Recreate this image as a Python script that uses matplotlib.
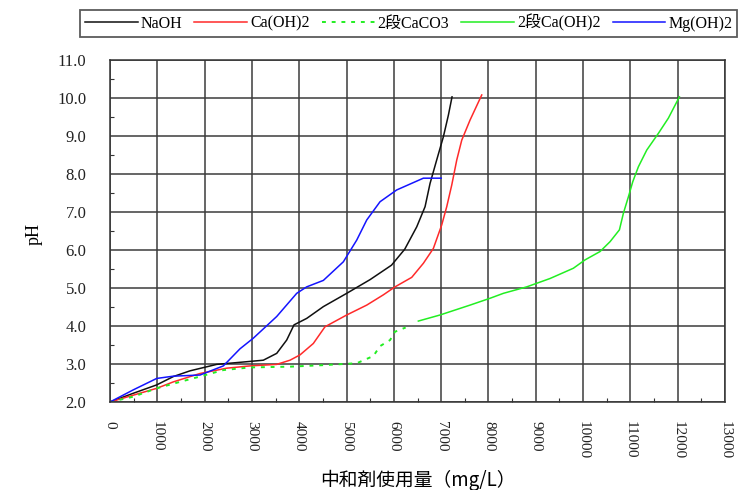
import matplotlib
matplotlib.use("Agg")
import matplotlib.pyplot as plt
from matplotlib.ticker import MultipleLocator, FixedLocator

plt.rcParams['font.family'] = ['Liberation Serif', 'Noto Sans CJK JP', 'DejaVu Sans']

# --- data ---
naoh_x = [0, 493, 987, 1340, 1691, 2255, 2889, 3241, 3524, 3735, 3890, 4158, 4510,
          5004, 5497, 5950, 6230, 6484, 6660, 6765, 6906, 7047, 7153, 7230]
naoh_y = [2.0, 2.23, 2.45, 2.67, 2.82, 2.99, 3.06, 3.10, 3.28, 3.63, 4.03, 4.20, 4.51,
          4.86, 5.22, 5.60, 6.02, 6.61, 7.14, 7.75, 8.37, 8.98, 9.55, 10.03]

caoh_x = [0, 493, 987, 1340, 1903, 2467, 2960, 3524, 3805, 4017, 4298, 4545, 5004,
          5427, 5778, 6025, 6378, 6624, 6835, 7012, 7118, 7224, 7330, 7435, 7611, 7858]
caoh_y = [2.0, 2.18, 2.36, 2.53, 2.75, 2.89, 2.95, 2.99, 3.10, 3.24, 3.54, 3.98, 4.29,
          4.55, 4.82, 5.03, 5.28, 5.65, 6.04, 6.66, 7.14, 7.71, 8.37, 8.89, 9.42, 10.08]

caco3_x = [0, 493, 987, 1480, 1903, 2396, 2960, 3805, 4510, 5215, 5567, 5708, 5920,
           6025, 6250]
caco3_y = [2.0, 2.14, 2.36, 2.53, 2.67, 2.84, 2.91, 2.93, 2.97, 3.02, 3.21, 3.47, 3.63,
           3.85, 3.96]

caoh2_x = [6518, 6977, 7611, 8034, 8316, 8809, 9302, 9795, 10042, 10359, 10571, 10768,
           10853, 10958, 11051, 11169, 11346, 11592, 11803, 12036]
caoh2_y = [4.13, 4.29, 4.55, 4.73, 4.86, 5.03, 5.25, 5.52, 5.74, 5.96, 6.22, 6.53,
           6.97, 7.40, 7.80, 8.19, 8.63, 9.07, 9.47, 10.03]

mgoh_x = [0, 493, 987, 1340, 1903, 2396, 2748, 3030, 3524, 3947, 4158, 4510, 4933,
          5215, 5427, 5708, 6060, 6624, 7000]
mgoh_y = [2.0, 2.32, 2.62, 2.68, 2.71, 2.95, 3.40, 3.68, 4.25, 4.86, 5.03, 5.20, 5.69,
          6.26, 6.79, 7.27, 7.58, 7.89, 7.89]

labels = ['NaOH', 'Ca(OH)2', '2段CaCO3', '2段Ca(OH)2', 'Mg(OH)2']
xticks = list(range(0, 13001, 1000))
yticks = [2.0, 3.0, 4.0, 5.0, 6.0, 7.0, 8.0, 9.0, 10.0, 11.0]

fig = plt.figure(figsize=(7.39, 4.90), dpi=100)
ax = fig.add_axes([110/739, 1-402/490, 615/739, 342/490])

lw = 1.1
l1, = ax.plot(naoh_x, naoh_y, color='#101010', lw=lw, label=labels[0])
l2, = ax.plot(caoh_x, caoh_y, color='#ff2a2a', lw=lw, label=labels[1])
l3, = ax.plot(caco3_x, caco3_y, color='#22ee22', lw=1.4, ls=(0, (2, 3)), label=labels[2])
l4, = ax.plot(caoh2_x, caoh2_y, color='#22ee22', lw=lw, label=labels[3])
l5, = ax.plot(mgoh_x, mgoh_y, color='#1414ff', lw=lw, label=labels[4])

ax.set_xlim(0, 13000)
ax.set_ylim(2.0, 11.0)
ax.xaxis.set_major_locator(FixedLocator(xticks))
ax.yaxis.set_major_locator(FixedLocator(yticks))
ax.xaxis.set_minor_locator(MultipleLocator(500))
ax.yaxis.set_minor_locator(MultipleLocator(0.5))
ax.set_xticklabels([str(v) for v in xticks], rotation=270, ha='center', va='top')
ax.set_yticklabels([f'{v:.1f}' for v in yticks])
ax.tick_params(axis='both', which='major', length=0, colors='#222222')
ax.tick_params(axis='x', which='major', pad=14, labelsize=11)
ax.tick_params(axis='y', which='major', pad=17, labelsize=12)
ax.tick_params(axis='both', which='minor', direction='in', length=3, width=0.8, color='#333333')
ax.grid(True, which='major', color='#3c3c3c', lw=1.1)
ax.set_axisbelow(True)
for s in ax.spines.values():
    s.set_color('#333333')
    s.set_linewidth(1.1)

ax.set_xlabel('中和剤使用量（mg/L）', fontsize=13.5, labelpad=7,
              family=['Noto Sans CJK JP', 'DejaVu Sans'])
ax.set_ylabel('pH', fontsize=13, labelpad=16)
ax.yaxis.set_label_coords(-0.11, 0.49)

leg = fig.legend(handles=[l1, l2, l3, l4, l5], loc='upper left',
                 bbox_to_anchor=(80/739, 1-9.7/490),
                 ncol=5, fontsize=11.5, frameon=True, fancybox=False,
                 edgecolor='#333333', handlelength=3.3, handletextpad=0.2,
                 columnspacing=0.75, borderaxespad=0, borderpad=0.3)
leg.get_frame().set_linewidth(1.3)

fig.savefig('out.png', dpi=100)
